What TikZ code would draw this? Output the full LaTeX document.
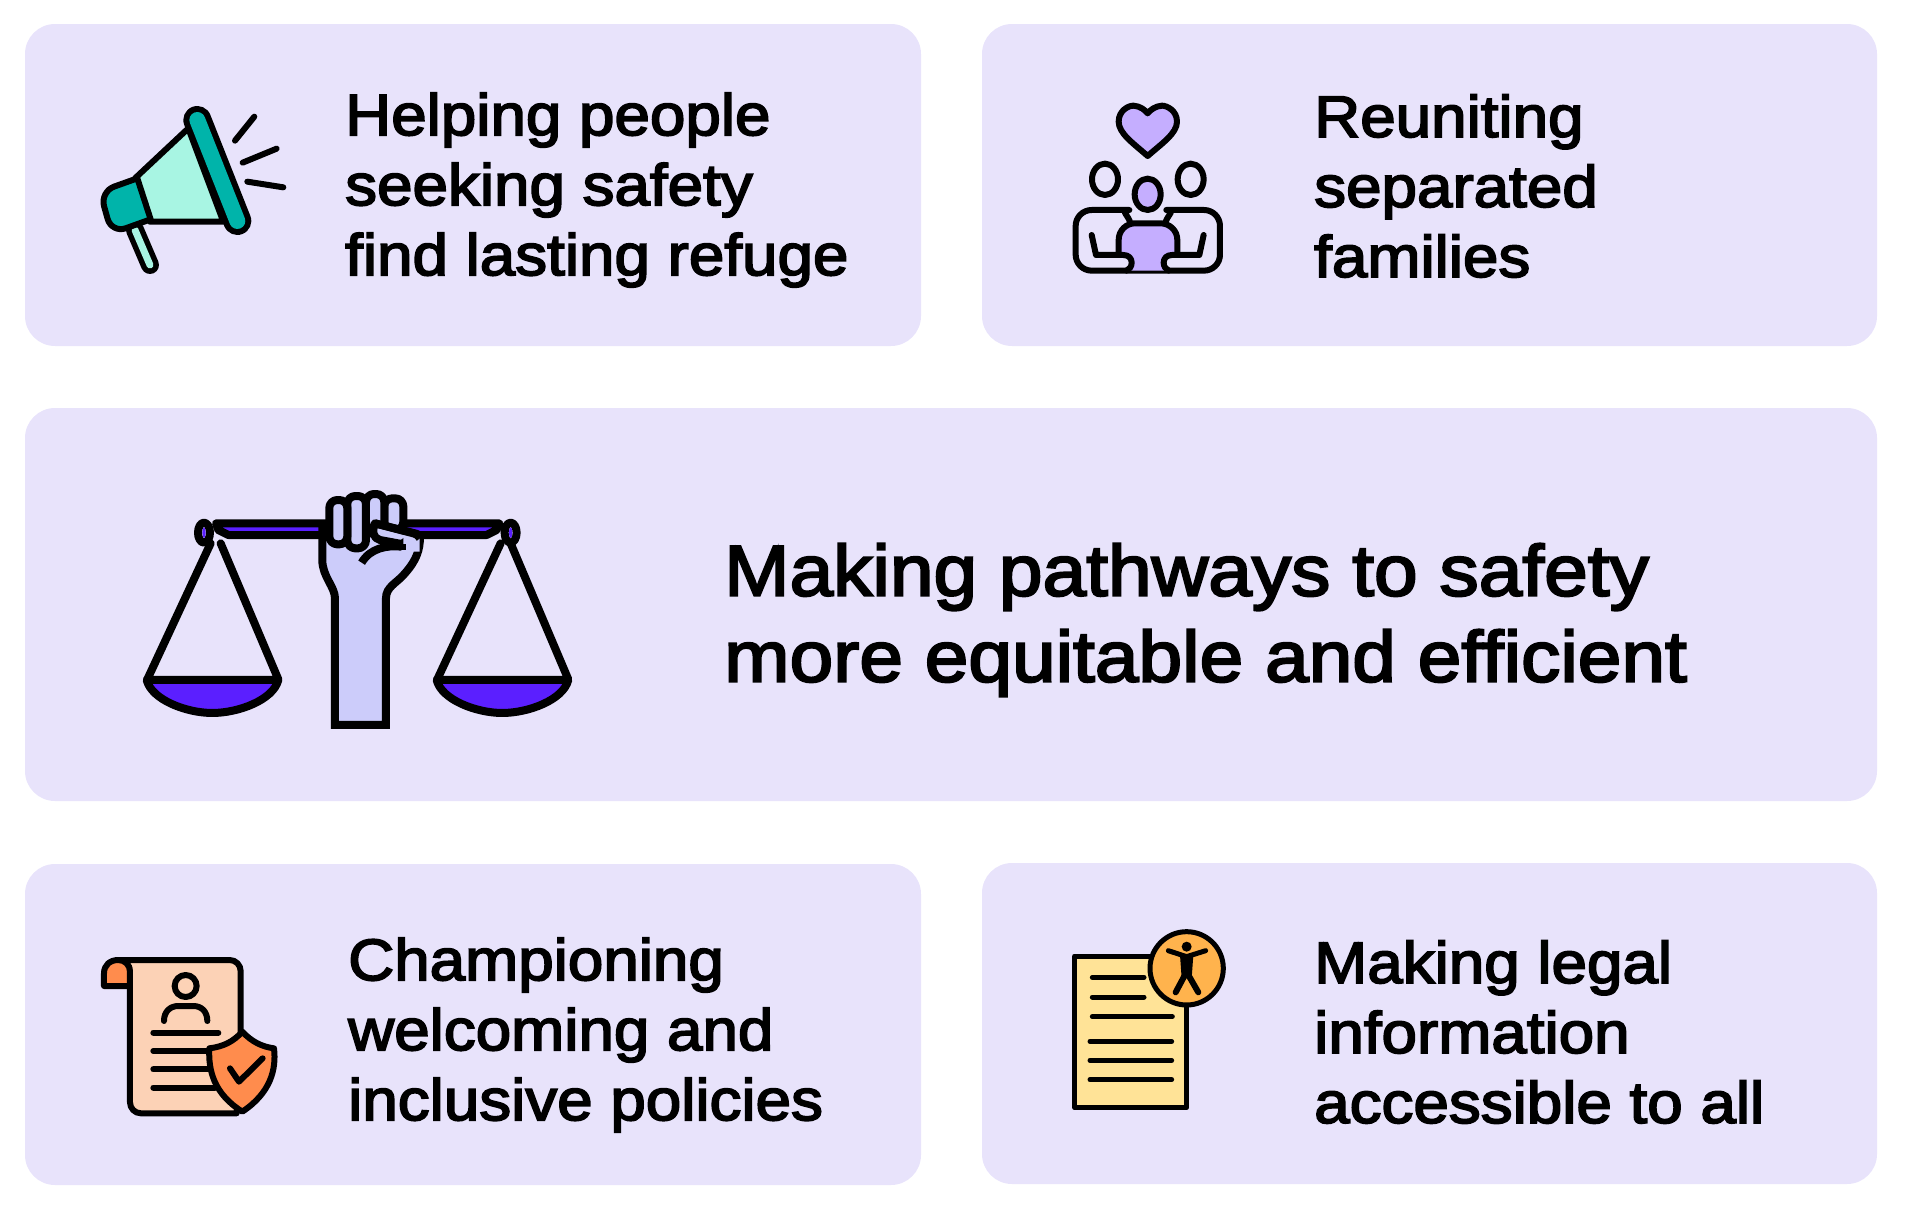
\documentclass[tikz,border=0pt]{standalone}
\usepackage{fontspec}
\newfontfamily\cardfont[FakeBold=3, FakeStretch=1.09]{Liberation Sans}
\usetikzlibrary{positioning}
\definecolor{cardbg}{HTML}{E8E3FB}
\definecolor{teal}{HTML}{00B4AA}
\definecolor{mint}{HTML}{A8F5E3}
\definecolor{lilac}{HTML}{C5AEFF}
\definecolor{violet}{HTML}{5B1FFF}
\definecolor{handblue}{HTML}{CCCCFA}
\definecolor{paperpeach}{HTML}{FCD2B6}
\definecolor{shieldorange}{HTML}{FF8C4D}
\definecolor{paperyellow}{HTML}{FFE397}
\definecolor{badgeorange}{HTML}{FFB34D}
\tikzset{
	card/.style={fill=cardbg, rounded corners=30pt, inner sep=0pt},
	cardtext/.style={anchor=west, align=left, inner sep=0pt, font=\cardfont\fontsize{58.5}{70}\selectfont},
	bigtext/.style={cardtext, font=\cardfont\fontsize{72}{86}\selectfont},
	ink/.style={draw=black, line width=6pt, line join=round, line cap=round},
}
\begin{document}
\begin{tikzpicture}[x=1pt, y=-1pt]
	\useasboundingbox (0,0) rectangle (1908,1216);

	\foreach \m/\cx/\cy/\w/\h in {help/473/185/896/322, family/1429.5/185/895/322, path/951/604.5/1852/393, policy/473/1024.5/896/321, legal/1429.5/1023.5/895/321}
	\node [card, minimum width=\w pt, minimum height=\h pt] (card-\m) at (\cx,\cy) {};

	\node [cardtext] (text-help) at (345,190) {Helping people\\seeking safety\\find lasting refuge};
	\node [cardtext] (text-family) at (1314,186) {Reuniting\\separated\\families};
	\node [bigtext] (text-path) at (724,620) {Making pathways to safety\\more equitable and efficient};
	\node [cardtext] (text-policy) at (348,1035) {Championing\\welcoming and\\inclusive policies};
	\node [cardtext] (text-legal) at (1314,1032) {Making legal\\information\\accessible to all};

	% megaphone
	\begin{scope}[shift={(80,90)}, x=0.3333pt, y=-0.3333pt]
		\draw [black, line width=18pt, line cap=round] (165,420) -- (210,525);
		\draw [mint, line width=7pt, line cap=round] (165,420) -- (210,525);
		\draw [ink, fill=mint] (165,265) -- (325,115) -- (430,395) -- (210,395) -- cycle;
		\draw [ink, fill=teal] [rounded corners=15pt] (172,265) -- (60,305) -- (95,430) [sharp corners] -- (212,388) -- cycle;
		\draw [black, line width=28pt, line cap=round] (352,90) -- (472,393);
		\draw [teal, line width=16pt, line cap=round] (352,90) -- (472,393);
		\draw [ink] (465,152) -- (523,80);
		\draw [ink] (488,218) -- (590,176);
		\draw [ink] (502,275) -- (610,292);
	\end{scope}

	% family and heart
	\begin{scope}[shift={(1060,90)}, x=0.3333pt, y=-0.3333pt]
		\draw [ink, fill=lilac] (263,198) .. controls (220,160) and (176,130) .. (176,95) .. controls (176,62) and (205,47) .. (220,47) .. controls (240,48) and (255,60) .. (263,70) .. controls (271,60) and (286,48) .. (306,47) .. controls (321,47) and (351,62) .. (351,95) .. controls (351,130) and (306,160) .. (263,198) -- cycle;
		\draw [ink] (135,268) ellipse [x radius=39, y radius=47];
		\draw [ink] (392,268) ellipse [x radius=39, y radius=47];
		\draw [ink, fill=lilac] (263,313) ellipse [x radius=39, y radius=47];
		\draw [ink] [rounded corners=16pt] (210,395) .. controls (200,370) and (180,360) .. (160,360) -- (47,360) -- (47,542) -- (480,542) -- (480,360) -- (367,360) [sharp corners] .. controls (347,360) and (327,370) .. (317,395);
		\fill [lilac] (176,490) -- (176,450) .. controls (176,420) and (200,400) .. (225,400) -- (302,400) .. controls (327,400) and (352,420) .. (352,450) -- (352,495) -- (336,495) .. controls (320,495) and (311,505) .. (311,518) .. controls (311,530) and (318,538) .. (326,542) -- (200,542) .. controls (208,538) and (215,530) .. (215,518) .. controls (215,505) and (206,495) .. (190,495) -- cycle;
		\draw [ink] (176,490) -- (176,450) .. controls (176,420) and (200,400) .. (225,400) -- (302,400) .. controls (327,400) and (352,420) .. (352,450) -- (352,490);
		\draw [ink] (95,435) -- (108,495) -- (190,495) .. controls (206,495) and (215,505) .. (215,518) .. controls (215,530) and (208,538) .. (200,542);
		\draw [ink] (431,435) -- (418,495) -- (336,495) .. controls (320,495) and (311,505) .. (311,518) .. controls (311,530) and (318,538) .. (326,542);
	\end{scope}

	% scales held by a fist
	\begin{scope}[shift={(130,480)}, x=0.3333pt, y=-0.3333pt, ink/.append style={line width=8pt}]
		\draw [ink, fill=violet] (258,130) -- (1108,130) -- (1100,150) -- (1070,165) -- (295,165) -- (265,150) -- cycle;
		\foreach \off/\lx in {0/222, 870/1142} {
			\draw [ink] (\off+242,190) -- (\off+52,598);
			\draw [ink] (\off+272,190) -- (\off+445,598);
			\draw [ink, fill=violet] (\off+50,600) .. controls (\off+65,660) and (\off+170,699) .. (\off+247,699) .. controls (\off+325,699) and (\off+430,660) .. (\off+445,600) -- cycle;
			\draw [ink, fill=cardbg] (\lx,158) ellipse [x radius=18, y radius=30];
			\fill [violet] (\lx,158) ellipse [x radius=5, y radius=16];
		}
		\draw [ink, fill=handblue, line cap=butt, line join=miter] (615,735) -- (615,355) .. controls (615,320) and (577,290) .. (577,240) -- (577,150) -- (870,170) .. controls (870,210) and (860,240) .. (825,280) .. controls (800,310) and (768,320) .. (768,355) -- (768,735) -- cycle;
		\foreach \xa/\ya/\xb/\yb in {763/55/820/150, 708/42/763/150, 652/48/708/205, 598/60/652/193}
		\draw [ink, fill=handblue, rounded corners=8pt] (\xa,\ya) rectangle (\xb,\yb);
		\draw [ink, fill=handblue] (735,130) -- (862,162) -- (815,192) -- (750,180) .. controls (730,175) and (725,155) .. (735,130) -- cycle;
		\fill [handblue] (820,162) -- (869,172) -- (869,215) -- (820,215) -- cycle;
		\draw [ink, line cap=butt] (735,130) -- (850,160) .. controls (860,163) and (868,168) .. (870,175);
		\draw [ink, line cap=butt] (815,192) -- (815,210);
		\draw [ink, line cap=butt] (815,200) .. controls (770,195) and (720,205) .. (695,248);
	\end{scope}

	% scroll with shield
	\begin{scope}[shift={(90,950)}, x=0.3333pt, y=-0.3333pt]
		\draw [ink, fill=paperpeach] [rounded corners=11pt] (85,30) -- (452,30) [sharp corners] -- (452,250) -- (440,490) [rounded corners=11pt] -- (120,490) [sharp corners] -- (120,65) .. controls (120,45) and (105,30) .. (85,30);
		\draw [ink, fill=shieldorange] (42,108) -- (42,70) .. controls (42,45) and (60,30) .. (85,30) .. controls (105,30) and (120,45) .. (120,65) -- (120,108) -- cycle;
		\draw [ink] (287,108) circle [radius=33];
		\draw [ink] (222,213) .. controls (222,185) and (240,168) .. (265,168) -- (310,168) .. controls (335,168) and (352,185) .. (352,213);
		\foreach \xb/\y in {385/248, 360/303, 360/358, 375/413}
		\draw [ink] (190,\y) -- (\xb,\y);
		\draw [ink, fill=shieldorange] (457,245) .. controls (430,275) and (400,290) .. (358,295) .. controls (355,360) and (370,430) .. (457,485) .. controls (540,430) and (560,360) .. (552,295) .. controls (515,290) and (485,275) .. (457,245) -- cycle;
		\draw [ink] (420,355) -- (447,395) -- (518,325);
	\end{scope}

	% legal page with access badge
	\begin{scope}[shift={(1060,920)}, x=0.3333pt, y=-0.3333pt, ink/.append style={line width=5pt}]
		\draw [ink, fill=paperyellow] (44,108) rectangle (380,563);
		\foreach \xa/\xb/\y in {97/252/172, 97/252/231, 97/337/290, 90/335/364, 90/335/421, 90/335/479}
		\draw [ink] (\xa,\y) -- (\xb,\y);
		\draw [ink, fill=badgeorange] (380,145) circle [radius=110];
		\fill [black] (380,80) circle [radius=15];
		\draw [ink] (325,92) -- (380,110) -- (437,92);
		\fill [black] (360,105) -- (400,105) -- (395,175) -- (365,175) -- cycle;
		\draw [ink, line width=6pt] (347,217) -- (372,170);
		\draw [ink, line width=6pt] (415,217) -- (388,170);
	\end{scope}
\end{tikzpicture}
\end{document}
